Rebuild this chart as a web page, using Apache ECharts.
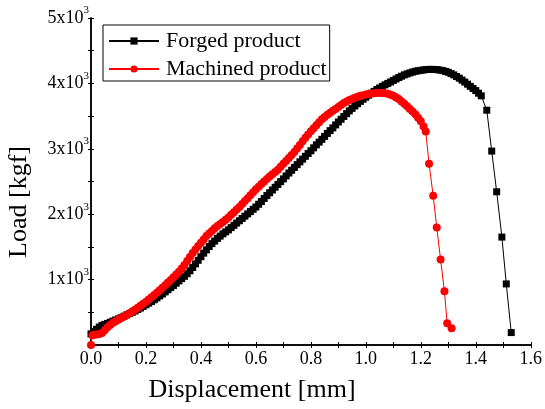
<!DOCTYPE html>
<html>
<head>
<meta charset="utf-8">
<script src="https://cdn.jsdelivr.net/npm/echarts@6/dist/echarts.min.js"></script>
<style>
  html, body { margin: 0; padding: 0; background: #fff; }
  #main { width: 545px; height: 409px; }
</style>
</head>
<body>
<div id="main"></div>
<script>
var mychart = echarts.init(document.getElementById('main'));

// Forged product (black squares), displacement [mm]
var forgedX = [0.00, 0.01, 0.02, 0.03, 0.04, 0.05, 0.06, 0.07, 0.08, 0.09,
  0.10, 0.11, 0.12, 0.13, 0.14, 0.15, 0.16, 0.17, 0.18, 0.19,
  0.20, 0.21, 0.22, 0.23, 0.24, 0.25, 0.26, 0.27, 0.28, 0.29,
  0.30, 0.31, 0.32, 0.33, 0.34, 0.35, 0.36, 0.37, 0.38, 0.39,
  0.40, 0.41, 0.42, 0.43, 0.44, 0.45, 0.46, 0.47, 0.48, 0.49,
  0.50, 0.51, 0.52, 0.53, 0.54, 0.55, 0.56, 0.57, 0.58, 0.59,
  0.60, 0.61, 0.62, 0.63, 0.64, 0.65, 0.66, 0.67, 0.68, 0.69,
  0.70, 0.71, 0.72, 0.73, 0.74, 0.75, 0.76, 0.77, 0.78, 0.79,
  0.80, 0.81, 0.82, 0.83, 0.84, 0.85, 0.86, 0.87, 0.88, 0.89,
  0.90, 0.91, 0.92, 0.93, 0.94, 0.95, 0.96, 0.97, 0.98, 0.99,
  1.00, 1.01, 1.02, 1.03, 1.04, 1.05, 1.06, 1.07, 1.08, 1.09,
  1.10, 1.11, 1.12, 1.13, 1.14, 1.15, 1.16, 1.17, 1.18, 1.19,
  1.20, 1.21, 1.22, 1.23, 1.24, 1.25, 1.26, 1.27, 1.28, 1.29,
  1.30, 1.31, 1.32, 1.33, 1.34, 1.35, 1.36, 1.37, 1.38, 1.39,
  1.40, 1.41, 1.42, 1.44, 1.458, 1.476, 1.495, 1.511, 1.529];
// load [kgf]
var forgedY = [170, 205, 240, 275, 300, 315, 330, 348, 365, 383,
  400, 420, 440, 460, 480, 500, 520, 542, 565, 590,
  615, 640, 665, 692, 720, 750, 780, 812, 845, 878,
  910, 945, 980, 1015, 1050, 1090, 1135, 1185, 1240, 1295,
  1350, 1405, 1455, 1505, 1550, 1590, 1630, 1665, 1700, 1730,
  1760, 1795, 1830, 1865, 1900, 1935, 1970, 2005, 2040, 2075,
  2110, 2152, 2195, 2240, 2285, 2328, 2370, 2412, 2455, 2498,
  2540, 2585, 2630, 2672, 2715, 2758, 2800, 2842, 2885, 2928,
  2970, 3015, 3060, 3102, 3145, 3190, 3235, 3278, 3320, 3365,
  3410, 3452, 3495, 3538, 3580, 3618, 3655, 3690, 3725, 3758,
  3790, 3820, 3850, 3878, 3905, 3930, 3955, 3978, 4000, 4022,
  4045, 4068, 4090, 4110, 4130, 4145, 4160, 4173, 4185, 4193,
  4200, 4206, 4212, 4214, 4215, 4213, 4210, 4203, 4195, 4183,
  4170, 4150, 4130, 4105, 4080, 4050, 4020, 3988, 3955, 3922,
  3890, 3850, 3810, 3590, 2965, 2343, 1650, 934, 190];

// Machined product (red circles), displacement [mm]
var machinedX = [0.000, 0.005, 0.01, 0.02, 0.03, 0.04, 0.05, 0.06, 0.07, 0.08, 0.09,
  0.10, 0.11, 0.12, 0.13, 0.14, 0.15, 0.16, 0.17, 0.18, 0.19,
  0.20, 0.21, 0.22, 0.23, 0.24, 0.25, 0.26, 0.27, 0.28, 0.29,
  0.30, 0.31, 0.32, 0.33, 0.34, 0.35, 0.36, 0.37, 0.38, 0.39,
  0.40, 0.41, 0.42, 0.43, 0.44, 0.45, 0.46, 0.47, 0.48, 0.49,
  0.50, 0.51, 0.52, 0.53, 0.54, 0.55, 0.56, 0.57, 0.58, 0.59,
  0.60, 0.61, 0.62, 0.63, 0.64, 0.65, 0.66, 0.67, 0.68, 0.69,
  0.70, 0.71, 0.72, 0.73, 0.74, 0.75, 0.76, 0.77, 0.78, 0.79,
  0.80, 0.81, 0.82, 0.83, 0.84, 0.85, 0.86, 0.87, 0.88, 0.89,
  0.90, 0.91, 0.92, 0.93, 0.94, 0.95, 0.96, 0.97, 0.98, 0.99,
  1.00, 1.01, 1.02, 1.03, 1.04, 1.05, 1.06, 1.07, 1.08, 1.09,
  1.10, 1.11, 1.12, 1.13, 1.14, 1.15, 1.16, 1.17, 1.18, 1.19,
  1.20, 1.21, 1.218, 1.230, 1.245, 1.258, 1.272, 1.286, 1.296, 1.312];
// load [kgf]
var machinedY = [0, 150, 155, 160, 170, 185, 225, 270, 305, 340, 365,
  390, 412, 435, 460, 485, 512, 540, 570, 600, 630,
  660, 695, 730, 765, 800, 838, 875, 915, 955, 995,
  1035, 1078, 1120, 1170, 1225, 1285, 1345, 1405, 1460, 1515,
  1565, 1615, 1665, 1705, 1745, 1785, 1820, 1850, 1880, 1915,
  1950, 1990, 2030, 2070, 2110, 2155, 2200, 2245, 2290, 2335,
  2380, 2420, 2460, 2500, 2540, 2575, 2610, 2645, 2680, 2725,
  2770, 2815, 2860, 2905, 2950, 3005, 3060, 3115, 3170, 3220,
  3270, 3315, 3360, 3405, 3450, 3485, 3520, 3550, 3580, 3610,
  3640, 3670, 3700, 3722, 3745, 3762, 3780, 3795, 3810, 3820,
  3830, 3838, 3845, 3850, 3855, 3857, 3855, 3848, 3840, 3825,
  3810, 3785, 3760, 3725, 3690, 3650, 3610, 3570, 3530, 3475,
  3420, 3340, 3266, 2770, 2282, 1795, 1308, 820, 334, 257];

// axis tick labels
var xTickLabels = ['0.0', '0.2', '0.4', '0.6', '0.8', '1.0', '1.2', '1.4', '1.6'];
var yTickLabels = ['1', '2', '3', '4', '5'];

const FONT = 'Liberation Serif';

function pairs(xs, ys) {
    let out = [];
    for (let i = 0; i < xs.length; i++) {
        out.push([xs[i], ys[i]]);
    }
    return out;
}

var tickStyle = {
    show: true,
    inside: true,
    length: 3,
    lineStyle: { color: '#000', width: 1 }
};
var lineStyle = { show: true, lineStyle: { color: '#000', width: 1.5 } };

var option = {
    backgroundColor: '#fff',
    animation: false,
    grid: {
        left: 91,
        right: 12,
        top: 18,
        bottom: 64
    },
    legend: {
        orient: 'vertical',
        left: 103,
        top: 25,
        padding: [5, 3, 1, 5],
        itemGap: 6,
        itemWidth: 50,
        itemHeight: 9,
        borderColor: '#000',
        borderWidth: 1,
        textStyle: {
            fontFamily: FONT,
            fontSize: 22,
            lineHeight: 22,
            color: '#000',
            padding: [0, 0, 0, 2]
        },
        data: ['Forged product', 'Machined product']
    },
    xAxis: [{
        type: 'value',
        min: 0,
        max: 1.6,
        interval: 0.1,
        position: 'bottom',
        axisLine: lineStyle,
        axisTick: tickStyle,
        splitLine: { show: false },
        axisLabel: {
            fontFamily: FONT,
            fontSize: 18,
            color: '#000',
            margin: 5,
            formatter: function (v) {
                let k = Math.round(v * 10);
                return k % 2 === 0 ? xTickLabels[k / 2] : '';
            }
        }
    }, {
        type: 'value',
        min: 0,
        max: 1.6,
        interval: 0.1,
        position: 'top',
        axisLine: lineStyle,
        axisTick: tickStyle,
        splitLine: { show: false },
        axisLabel: { show: false }
    }],
    yAxis: [{
        type: 'value',
        min: 0,
        max: 5000,
        interval: 500,
        position: 'left',
        axisLine: lineStyle,
        axisTick: tickStyle,
        splitLine: { show: false },
        axisLabel: {
            margin: 2,
            color: '#000',
            formatter: function (v) {
                if (v === 0 || v % 1000 !== 0) return '';
                return '{a|' + yTickLabels[v / 1000 - 1] + 'x10}{b|3}';
            },
            rich: {
                a: { fontFamily: FONT, fontSize: 18, color: '#000', lineHeight: 26 },
                b: { fontFamily: FONT, fontSize: 11, color: '#000', lineHeight: 12, verticalAlign: 'top' }
            }
        }
    }, {
        type: 'value',
        min: 0,
        max: 5000,
        interval: 500,
        position: 'right',
        axisLine: lineStyle,
        axisTick: tickStyle,
        splitLine: { show: false },
        axisLabel: { show: false }
    }],
    graphic: [{
        type: 'text',
        x: 252,
        y: 390,
        style: {
            text: 'Displacement [mm]',
            font: '26px "Liberation Serif"',
            fill: '#000',
            align: 'center',
            verticalAlign: 'middle'
        }
    }, {
        type: 'text',
        x: 19,
        y: 202,
        rotation: Math.PI / 2,
        style: {
            text: 'Load [kgf]',
            font: '26px "Liberation Serif"',
            fill: '#000',
            align: 'center',
            verticalAlign: 'middle'
        }
    }],
    series: [{
        name: 'Forged product',
        type: 'line',
        data: pairs(forgedX, forgedY),
        symbol: 'rect',
        symbolSize: 7,
        showAllSymbol: true,
        itemStyle: { color: '#000' },
        lineStyle: { color: '#000', width: 1 },
        z: 2
    }, {
        name: 'Machined product',
        type: 'line',
        data: pairs(machinedX, machinedY),
        symbol: 'circle',
        symbolSize: 8,
        showAllSymbol: true,
        itemStyle: { color: '#ff0000' },
        lineStyle: { color: '#ff0000', width: 1 },
        z: 3
    }]
};

mychart.setOption(option);
</script>
</body>
</html>
